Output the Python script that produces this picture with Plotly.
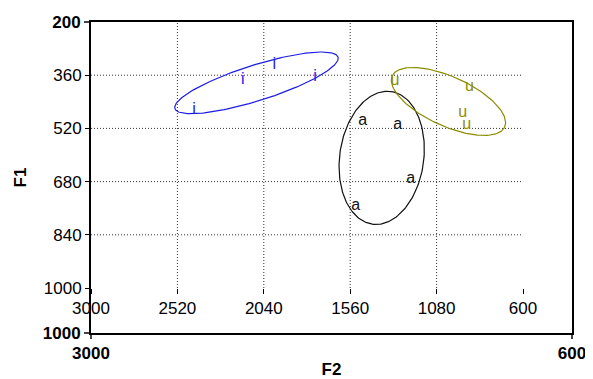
import numpy as np
import plotly.graph_objects as go

# ---- data (F2, F1 in Hz) ----
i_f2 = [2428, 2157, 1982, 1756]
i_f1 = [465, 374, 329, 364]
a_f2 = [1491, 1296, 1224, 1529]
a_f1 = [497, 511, 673, 753]
u_f2 = [1311, 898, 935, 913]
u_f1 = [376, 395, 475, 510]

vowels = ["i", "a", "u"]
colors = {"i": "#1c1ce6", "a": "#111111", "u": "#8c8c00"}

inner_x_ticks = [3000, 2520, 2040, 1560, 1080, 600]
inner_y_ticks = [360, 520, 680, 840, 1000]
grid_x = [2520, 2040, 1560, 1080]
grid_y = [360, 520, 680, 840]
outer_x_ticks = [3000, 600]
outer_y_ticks = [200, 1000]

ellipse_k = 1.6

data = {"i": (i_f2, i_f1), "a": (a_f2, a_f1), "u": (u_f2, u_f1)}


def ellipse(xs, ys, k, n=200):
    xs = np.asarray(xs, float)
    ys = np.asarray(ys, float)
    cov = np.cov(np.vstack([xs, ys]))
    vals, vecs = np.linalg.eigh(cov)
    t = np.linspace(0, 2 * np.pi, n)
    circ = np.vstack([np.cos(t), np.sin(t)])
    pts = vecs @ (np.sqrt(vals)[:, None] * circ) * k
    return xs.mean() + pts[0], ys.mean() + pts[1]


fig = go.Figure()
# empty trace to hold the outer frame axes
fig.add_trace(go.Scatter(x=[], y=[], xaxis="x", yaxis="y", showlegend=False))

for v in vowels:
    xs, ys = data[v]
    ex, ey = ellipse(xs, ys, ellipse_k)
    fig.add_trace(go.Scatter(x=ex, y=ey, mode="lines", xaxis="x2", yaxis="y2",
                             line=dict(color=colors[v], width=1.2),
                             showlegend=False, hoverinfo="skip"))
    fig.add_trace(go.Scatter(x=xs, y=ys, mode="text", text=[v] * len(xs),
                             xaxis="x2", yaxis="y2",
                             textfont=dict(color=colors[v], size=16,
                                           family="Liberation Sans, Arial"),
                             textposition="middle center", showlegend=False))

shapes = []
grid_line = dict(color="#333", width=1, dash="1px,2px")
for gx in grid_x:
    shapes.append(dict(type="line", xref="x2", yref="y2 domain", x0=gx, x1=gx,
                       y0=0, y1=1, line=grid_line, layer="below"))
for gy in grid_y:
    shapes.append(dict(type="line", xref="x2 domain", yref="y2", x0=0, x1=1,
                       y0=gy, y1=gy, line=grid_line, layer="below"))

font_reg = dict(family="Liberation Sans, Arial", size=17, color="black")
font_bold = dict(family="Liberation Sans, Arial", size=17, color="black")

fig.update_layout(
    width=585, height=371,
    margin=dict(l=83, r=21, t=14, b=46),
    paper_bgcolor="white", plot_bgcolor="rgba(0,0,0,0)",
    shapes=shapes,
    xaxis=dict(domain=[0, 1], anchor="y", range=[3000, 600],
               tickvals=outer_x_ticks,
               ticktext=[f"<b>{t}</b>" for t in outer_x_ticks],
               tickfont=font_bold, ticks="outside", ticklen=4, tickwidth=1.5,
               showline=True, linewidth=2, linecolor="black", mirror=True,
               showgrid=False, zeroline=False, automargin=False,
               title=dict(text="<b>F2</b>", font=font_bold, standoff=4)),
    yaxis=dict(domain=[0, 1], anchor="x", range=[1000, 200],
               tickvals=outer_y_ticks,
               ticktext=[f"<b>{t}</b>" for t in outer_y_ticks],
               tickfont=font_bold, ticks="outside", ticklen=5, tickwidth=1.5,
               showline=True, linewidth=2, linecolor="black", mirror=True,
               showgrid=False, zeroline=False, automargin=False,
               title=dict(text="<b>F1</b>", font=font_bold, standoff=12)),
    xaxis2=dict(domain=[0, 432 / 481], anchor="y2", range=[3000, 600],
                tickvals=inner_x_ticks, tickfont=font_reg,
                ticks="outside", ticklen=5, tickwidth=1, tickcolor="black",
                showline=False, showgrid=False, zeroline=False, automargin=False),
    yaxis2=dict(domain=[45 / 311, 1], anchor="x2", range=[1000, 200],
                tickvals=inner_y_ticks, tickfont=font_reg,
                ticks="outside", ticklen=5, tickwidth=1, tickcolor="black",
                showline=False, showgrid=False, zeroline=False, automargin=False),
)

fig.write_html("out.html")
